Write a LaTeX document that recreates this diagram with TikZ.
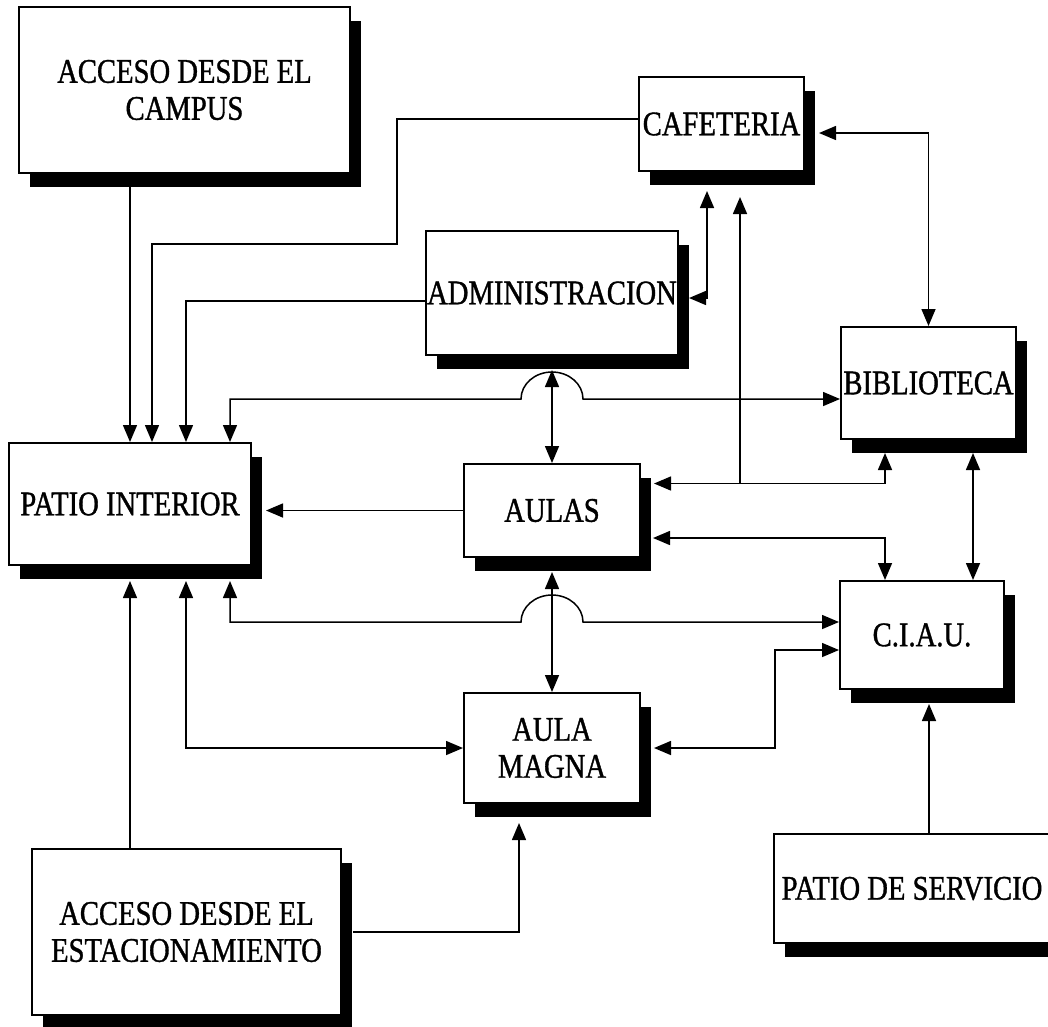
\documentclass[tikz,border=0pt]{standalone}
\usepackage{fontspec}
\setmainfont[FakeStretch=0.83,FakeBold=1]{Liberation Serif}
\usetikzlibrary{arrows.meta,shadows,calc}

\begin{document}
\begin{tikzpicture}[x=1pt, y=-1pt, >={Triangle[length=17pt, width=14pt]},
	box/.style = {draw, line width=2pt, fill=white, inner sep=0pt, align=center,
		font=\fontsize{34.5}{37}\selectfont,
		drop shadow={shadow xshift=11pt, shadow yshift=-14pt, fill=black, opacity=1}},
	link/.style = {line width=1.5pt}]
	\useasboundingbox (0,0) rectangle (1048,1026);

	\node [box, minimum width=331pt, minimum height=166pt] (campus) at (184.5,90) {ACCESO DESDE EL\\CAMPUS};
	\node [box, minimum width=165pt, minimum height=94pt] (caf) at (721.5,124) {CAFETERIA};
	\node [box, minimum width=252pt, minimum height=124pt] (admin) at (552,293) {ADMINISTRACION};
	\node [box, minimum width=175pt, minimum height=112pt] (bib) at (928.5,383) {BIBLIOTECA};
	\node [box, minimum width=242pt, minimum height=122pt] (patio) at (130,504) {PATIO INTERIOR};
	\node [box, minimum width=176pt, minimum height=93pt] (aulas) at (552,510.5) {AULAS};
	\node [box, minimum width=164pt, minimum height=108pt] (ciau) at (922,635) {C.I.A.U.};
	\node [box, minimum width=176pt, minimum height=110pt] (magna) at (552,748) {AULA\\MAGNA};
	\node [box, minimum width=309pt, minimum height=166pt] (estac) at (186.5,932) {ACCESO DESDE EL\\ESTACIONAMIENTO};
	\node [box, minimum width=276pt, minimum height=109pt] (serv) at (912,888.5) {PATIO DE SERVICIO};

	% accesos al patio interior
	\draw [link, ->] (campus.south -| patio.north) -- (patio.north);
	\draw [link, ->] ([yshift=5pt]caf.west) -| (397,244) -| ([xshift=22pt]patio.north);
	\draw [link, ->] ([yshift=-8pt]admin.west) -| ([xshift=56pt]patio.north);
	\draw [link, ->] (estac.north -| patio.south) -- ([yshift=-15pt]patio.south);
	\draw [link, ->] (aulas.west) -- ($(patio.east |- aulas.west)+(14,0)$);
	\draw [link, <->] ([xshift=56pt,yshift=-15pt]patio.south) |- (magna.west);

	% lineas con salto
	\draw [link, <->] ([xshift=100pt]patio.north) |- (521,399)
		arc [start angle=180, end angle=360, x radius=31, y radius=27] -- ([yshift=-16pt]bib.west);
	\draw [link, <->] ([xshift=100pt,yshift=-15pt]patio.south) |- (521,622)
		arc [start angle=180, end angle=360, x radius=31, y radius=27] -- ([yshift=13pt]ciau.west);
	\draw [link, <->] ([yshift=-14pt]admin.south) -- (aulas.north);
	\draw [link, <->] ([yshift=-14pt]aulas.south) -- (magna.north);

	% cafeteria
	\draw [link, <->] ([xshift=10pt,yshift=-5pt]admin.east) -| ([xshift=-14.5pt,yshift=-19pt]caf.south);
	\draw [link, <->] ([xshift=14pt,yshift=-9pt]caf.east) -| (bib.north);
	\draw [link, <->] ([xshift=13pt,yshift=27pt]aulas.east) -| ([xshift=-43.5pt,yshift=-13pt]bib.south);
	\coordinate (j1) at (740,483.5);
	\draw [link, ->] (j1) -- ([xshift=18.5pt,yshift=-25pt]caf.south);

	% c.i.a.u.
	\draw [link, <->] ($(bib.south)+(44.5,13)$) coordinate (b1) -- (b1 |- ciau.north);
	\draw [link, <->] ([xshift=12pt,yshift=-27.5pt]aulas.east) -| ([xshift=-37pt]ciau.north);
	\draw [link, <->] ([xshift=13pt]magna.east) -- ++(121,0) |- ([yshift=-15pt]ciau.west);
	\draw [link, ->] ([xshift=17pt]serv.north) coordinate (s1) -- ($(s1 |- ciau.south)+(0,14)$);
	\draw [link, ->] ([xshift=11pt]estac.east) -| ([xshift=-33pt,yshift=-19pt]magna.south);
\end{tikzpicture}
\end{document}
